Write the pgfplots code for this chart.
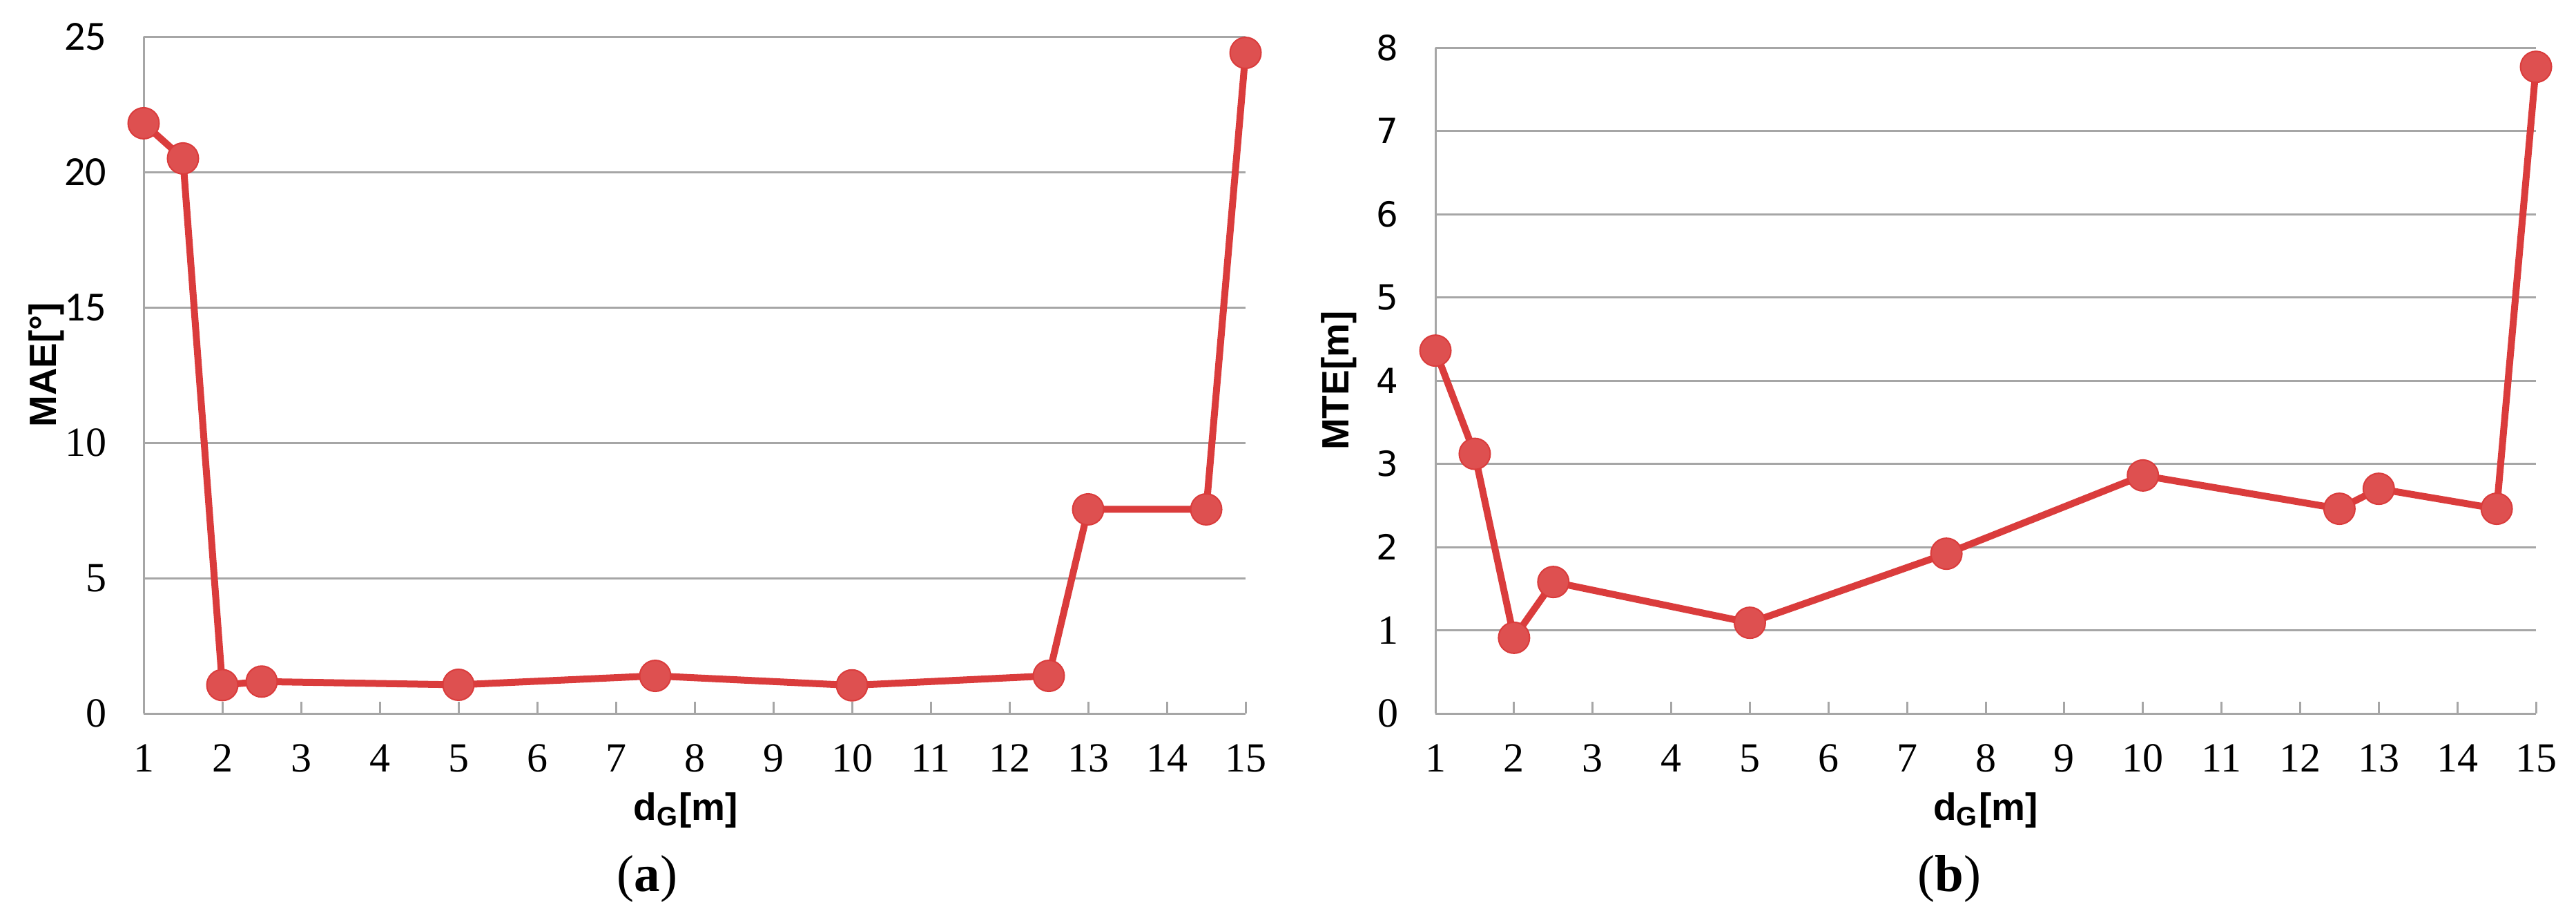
\documentclass[border=0pt]{standalone}
\usepackage{fontspec}
\usepackage{pgfplots}
\pgfplotsset{compat=1.18}
\setmainfont{Liberation Serif}
\newfontfamily\tickserif{Liberation Serif}
\newfontfamily\ticksans{Carlito}
\newfontfamily\ticksansb{DejaVu Sans}
\newfontfamily\labfont{Liberation Sans}

\definecolor{redl}{RGB}{218,60,60}
\definecolor{redm}{RGB}{222,80,80}
\definecolor{gridg}{RGB}{166,166,166}

\newcommand{\xs}[1]{{\tickserif\fontsize{12}{12}\selectfont #1}}
\newcommand{\lab}[1]{{\labfont\bfseries\fontsize{11}{13}\selectfont #1}}

\pgfplotsset{
  panel/.style={
    scale only axis,
    anchor=south west,
    clip=false,
    xmin=1, xmax=15,
    xtick={1,...,15},
    xticklabels={\xs{1},\xs{2},\xs{3},\xs{4},\xs{5},\xs{6},\xs{7},\xs{8},\xs{9},\xs{10},\xs{11},\xs{12},\xs{13},\xs{14},\xs{15}},
    axis x line*=bottom,
    axis y line*=left,
    axis line style={draw=gridg, line width=0.6pt},
    ymajorgrids,
    grid style={draw=gridg, line width=0.6pt},
    tick align=inside,
    major tick length=3.4pt,
    xtick style={draw=gridg, line width=0.6pt},
    ytick style={draw=none},
    xticklabel style={inner sep=0pt, anchor=north, yshift=-8.8pt},
    yticklabel style={inner sep=0pt, anchor=east, xshift=-10.6pt},
    xlabel={\lab{d\textsubscript{G}[m]}},
  },
  redline/.style={
    line width=2pt, color=redl,
    mark=*, mark size=4.5pt,
    mark options={fill=redm, draw=redl, line width=0.4pt}
  }
}

\begin{document}
\begin{tikzpicture}
\path[use as bounding box] (0,0) rectangle (746.2pt,266.2pt);

% (a) MAE
\begin{axis}[panel,
  at={(41.6pt,59.6pt)},
  width=319.2pt, height=196pt,
  ymin=0, ymax=25,
  ytick={0,5,10,15,20,25},
  yticklabels={\xs{0},\xs{5},\xs{10},
    {\ticksans\fontsize{12}{12}\selectfont 15},
    {\ticksans\fontsize{12}{12}\selectfont 20},
    {\ticksans\fontsize{12}{12}\selectfont 25}},
  ylabel={\lab{MAE[°]}},
  ylabel style={at={(axis description cs:-0.0884,0.515)}, anchor=center},
  xlabel style={at={(axis description cs:0.492,-0.1429)}, anchor=center},
]
\addplot[redline] coordinates {
  (1,21.8) (1.5,20.5) (2,1.05) (2.5,1.18) (5,1.06) (7.5,1.39)
  (10,1.04) (12.5,1.39) (13,7.54) (14.5,7.54) (15,24.4)
};
\node[font=\fontsize{15}{17}\selectfont] at (axis description cs:0.457,-0.2439) {(\textbf{a})};
\end{axis}

% (b) MTE
\begin{axis}[panel,
  at={(415.8pt,59.6pt)},
  width=318.8pt, height=192.8pt,
  ymin=0, ymax=8,
  ytick={0,1,2,3,4,5,6,7,8},
  yticklabels={\xs{0},\xs{1},
    {\ticksansb\fontsize{10}{10}\selectfont 2},
    {\ticksansb\fontsize{10}{10}\selectfont 3},
    {\ticksansb\fontsize{10}{10}\selectfont 4},
    {\ticksansb\fontsize{10}{10}\selectfont 5},
    {\ticksansb\fontsize{10}{10}\selectfont 6},
    {\ticksansb\fontsize{10}{10}\selectfont 7},
    {\ticksansb\fontsize{10}{10}\selectfont 8}},
  ylabel={\lab{MTE[m]}},
  ylabel style={at={(axis description cs:-0.0878,0.5)}, anchor=center},
  xlabel style={at={(axis description cs:0.5,-0.1452)}, anchor=center},
]
\addplot[redline] coordinates {
  (1,4.36) (1.5,3.12) (2,0.91) (2.5,1.58) (5,1.09) (7.5,1.92)
  (10,2.86) (12.5,2.46) (13,2.70) (14.5,2.46) (15,7.77)
};
\node[font=\fontsize{15}{17}\selectfont] at (axis description cs:0.467,-0.2479) {(\textbf{b})};
\end{axis}
\end{tikzpicture}
\end{document}
